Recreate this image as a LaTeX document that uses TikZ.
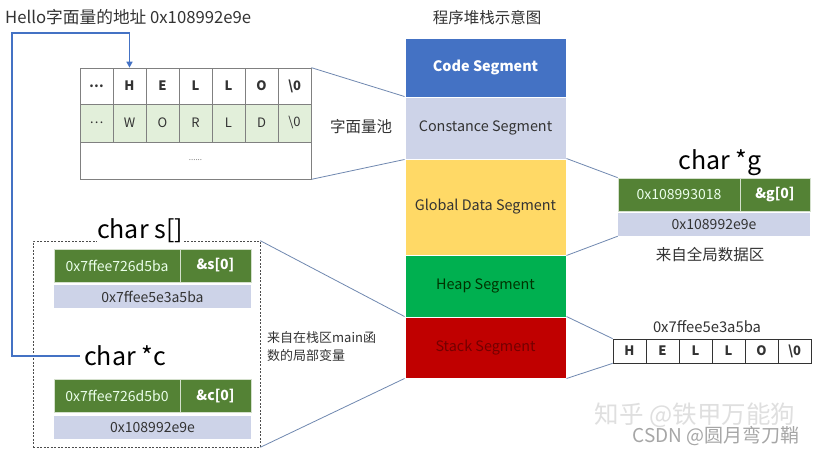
\documentclass[tikz,border=0pt]{standalone}
\usepackage{fontspec}
\setmainfont{Noto Sans CJK SC}
\usetikzlibrary{arrows.meta}
\definecolor{codeblue}{HTML}{4472C4}
\definecolor{lav}{HTML}{CDD3E8}
\definecolor{gold}{HTML}{FFD966}
\definecolor{heapgreen}{HTML}{00B050}
\definecolor{stackred}{HTML}{C00000}
\definecolor{dgreen}{HTML}{548235}
\definecolor{lgreen}{HTML}{E2EFDA}
\definecolor{linkc}{HTML}{7088B0}
\definecolor{cellline}{HTML}{808080}
\definecolor{txt}{HTML}{333333}
\newcommand\zterm{\textbackslash 0}
\tikzset{
  seg/.style={draw=white, line width=1pt, minimum width=161, inner sep=0pt, font=\fontsize{14.4}{16}\selectfont},
  cell/.style={draw=cellline, line width=0.7pt, minimum width=33, inner sep=0pt, font=\fontsize{13}{15}\selectfont, text=txt},
  gbox/.style={fill=dgreen, draw=white!75!dgreen, line width=0.7pt, minimum height=33, inner sep=0pt, text=white!92!green, font=\fontsize{14}{16}\selectfont},
  gref/.style={gbox, text=white, font=\fontsize{14}{16}\bfseries},
  vbox/.style={fill=lav, minimum height=23, inner sep=0pt, text=txt, font=\fontsize{14}{16}\selectfont},
  link/.style={draw=linkc, line width=0.8pt},
  big/.style={font=\fontsize{25}{27}\selectfont, text=black, inner sep=0pt},
  lbl/.style={font=\fontsize{15.5}{17}\selectfont, text=txt, inner sep=0pt},
  ptr/.style={draw=codeblue, line width=1.8pt, -{Triangle[length=6pt,width=6pt]}}
}
\begin{document}
\begin{tikzpicture}[x=1pt,y=-1pt]
\useasboundingbox (0,0) rectangle (817,455);
\fill[white] (0,0) rectangle (817,455);

% title
\node[lbl] (title) at (487,18) {程序堆栈示意图};
\node[lbl, anchor=west, font=\fontsize{16.7}{18}\selectfont] (hello) at (5,17) {Hello字面量的地址 0x108992e9e};

% segments
\node[seg, fill=codeblue, minimum height=59, text=white, font=\fontsize{14.4}{16}\bfseries] (code) at (485.5,67.5) {Code Segment};
\node[seg, fill=lav, minimum height=62, text=txt] (const) at (485.5,128) {Constance Segment};
\node[seg, fill=gold, minimum height=96, text=txt] (global) at (485.5,207) {Global Data Segment};
\node[seg, fill=heapgreen, minimum height=62, text=black!80!green] (heap) at (485.5,286) {Heap Segment};
\node[seg, fill=stackred, minimum height=61, text=black!55!red] (stack) at (485.5,347.5) {Stack Segment};

% literal pool table
\foreach \t [count=\i] in {…,H,E,L,L,O,\zterm}
  \node[cell, minimum height=36, font=\fontsize{13}{15}\bfseries] (ta\i) at ({80+33*(\i-0.5)},86) {\t};
\foreach \t [count=\i] in {…,W,O,R,L,D,\zterm}
  \node[cell, fill=lgreen, minimum height=38] (tb\i) at ({80+33*(\i-0.5)},123) {\t};
\node[cell, minimum width=231, minimum height=37, text=gray, font=\fontsize{8}{9}\selectfont] (tc) at (195.5,160.5) {......};
\node[lbl] (pool) at (361,127) {字面量池};
\draw[link] (ta7.north east) -- (const.north west);
\draw[link] (tc.south east) -- (const.south west);

% global char *g
\node[big] (gname) at (720,163) {char *g};
\node[gbox, minimum width=122] (gaddr) at (679,194.5) {0x108993018};
\node[gref, minimum width=70] (gref) at (775,194.5) {\&g[0]};
\node[vbox, minimum width=192] (gval) at (714,224.5) {0x108992e9e};
\node[lbl] (gnote) at (710,255) {来自全局数据区};
\draw[link] (global.north east) -- (gaddr.north west);
\draw[link] (global.south east) -- (gval.south west);

% stack local variables
\node[draw=black!70, dashed, dash pattern=on 2pt off 1.5pt, line width=0.6pt, minimum width=227, minimum height=206, inner sep=0pt] (stackbox) at (146.5,344) {};
\node[big, fill=white] (sname) at (140,231) {char s[]};
\node[gbox, minimum width=126] (saddr) at (117,265.5) {0x7ffee726d5ba};
\node[gref, minimum width=71] (sref) at (215.5,265.5) {\&s[0]};
\node[vbox, minimum width=197] (sval) at (152.5,296.5) {0x7ffee5e3a5ba};
\node[big] (cname) at (125,356) {char *c};
\node[gbox, minimum width=126] (caddr) at (117,396) {0x7ffee726d5b0};
\node[gref, minimum width=71] (cref) at (215.5,396) {\&c[0]};
\node[vbox, minimum width=197] (cval) at (152.5,427.5) {0x108992e9e};
\node[lbl, anchor=north west, align=left, font=\fontsize{13}{18}\selectfont] (snote) at (267,331) {来自在栈区main函\\数的局部变量};
\draw[link] (stackbox.north east) -- (stack.north west);
\draw[link] (stackbox.south east) -- (stack.south west);

% pointer arrow
\coordinate (bendtop) at (12,33);
\draw[ptr] (cname.west) ++(-4,0) -| (bendtop) -| (ta2.north);

% right HELLO array
\foreach \t [count=\i] in {H,E,L,L,O,\zterm}
  \node[cell, draw=black!80, minimum height=24, font=\fontsize{13}{15}\bfseries] (r\i) at ({613+33*(\i-0.5)},351) {\t};
\node[lbl, font=\fontsize{14.8}{16}\selectfont] (raddr) at (707,327) {0x7ffee5e3a5ba};
\draw[link] (stack.north east) -- (r1.north west);
\draw[link] (stack.south east) -- (r1.south west);

% watermark
\node[text=gray!25, font=\fontsize{24.5}{26}\selectfont, inner sep=0pt] (wm1) at (695,415) {知乎 @铁甲万能狗};
\node[text=gray!70, font=\fontsize{19}{21}\selectfont, inner sep=0pt] (wm2) at (716,436) {CSDN @圆月弯刀鞘};
\end{tikzpicture}
\end{document}
